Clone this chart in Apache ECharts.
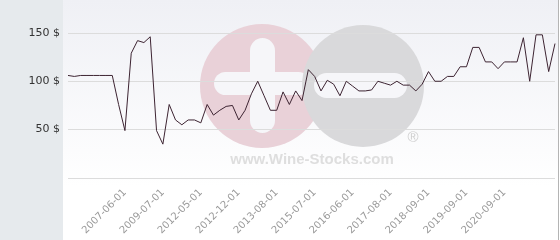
<!DOCTYPE html>
<html>
<head>
<meta charset="utf-8">
<script src="https://cdn.jsdelivr.net/npm/echarts@6/dist/echarts.min.js"></script>
<style>
html,body{margin:0;padding:0;background:#fff;}
#c{width:560px;height:240px;}
</style>
</head>
<body>
<div id="c"></div>
<script>
// Category labels (only the labelled dates are known; others left blank)
var categories = [
  '', '', '', '', '', '', '', '', '', '2007-06-01',
  '', '', '', '', '', '2009-07-01', '', '', '', '',
  '', '2012-05-01', '', '', '', '', '', '2012-12-01', '', '',
  '', '', '', '2013-08-01', '', '', '', '', '', '2015-07-01',
  '', '', '', '', '', '2016-06-01', '', '', '', '',
  '', '2017-08-01', '', '', '', '', '', '2018-09-01', '', '',
  '', '', '', '2019-09-01', '', '', '', '', '', '2020-09-01',
  '', '', '', '', '', '', '', ''
];
// Price values ($)
var prices = [
  106, 105, 106, 106, 106, 106, 106, 106, 76, 49,
  129, 142, 140, 146, 49, 35, 76, 60, 55, 60,
  60, 57, 76, 65, 70, 74, 75, 60, 70, 87,
  100, 85, 70, 70, 89, 76, 90, 80, 112, 105,
  90, 101, 97, 85, 100, 95, 90, 90, 91, 100,
  98, 96, 100, 96, 96, 90, 97, 110, 100, 100,
  105, 105, 115, 115, 135, 135, 120, 120, 113, 120,
  120, 120, 145, 100, 148, 148, 110, 139
];
var yTicks = { min: 0, max: 184, interval: 50 };
var watermarkText = 'www.Wine-Stocks.com';

var chart = echarts.init(document.getElementById('c'), null, { renderer: 'canvas' });
chart.setOption({
  animation: false,
  backgroundColor: '#ffffff',
  graphic: {
    elements: [
      { type: 'rect', z: -20, silent: true, shape: { x: 63, y: 0, width: 496, height: 240 },
        style: { fill: new echarts.graphic.LinearGradient(0, 0, 0, 1, [
          { offset: 0, color: '#eff0f5' }, { offset: 0.78, color: '#ffffff' }, { offset: 1, color: '#ffffff' }]) } },
      { type: 'rect', z: -20, silent: true, shape: { x: 0, y: 0, width: 63, height: 240 }, style: { fill: '#e6eaed' } },
      { type: 'rect', z: -20, silent: true, shape: { x: 558, y: 0, width: 1, height: 240 }, style: { fill: '#b4b4b4' } },
      { type: 'circle', z: -15, silent: true, shape: { cx: 262, cy: 86, r: 62 }, style: { fill: '#e9d1d8' } },
      { type: 'rect', z: -14, silent: true, shape: { x: 214, y: 72, width: 96, height: 23, r: 11.5 }, style: { fill: '#f6f6f9' } },
      { type: 'rect', z: -14, silent: true, shape: { x: 250, y: 38, width: 25, height: 95, r: 12.5 }, style: { fill: '#f6f6f9' } },
      { type: 'circle', z: -13, silent: true, shape: { cx: 363, cy: 86, r: 61 }, style: { fill: '#d9d9db' } },
      { type: 'rect', z: -12, silent: true, shape: { x: 314, y: 73, width: 93, height: 25, r: 12.5 }, style: { fill: '#f6f6f9' } },
      { type: 'text', z: -12, silent: true, x: 312, y: 160,
        style: { text: watermarkText, fill: '#dedede', font: 'bold 15px "Liberation Sans", Arial, sans-serif',
                 textAlign: 'center', textVerticalAlign: 'middle' } },
      { type: 'text', z: -12, silent: true, x: 413, y: 138,
        style: { text: '®', fill: '#cfcfcf', font: '15px "Liberation Sans", Arial, sans-serif',
                 textAlign: 'center', textVerticalAlign: 'middle' } }
    ]
  },
  grid: { left: 68, right: 5, top: 0, bottom: 62, containLabel: false },
  xAxis: {
    type: 'category',
    data: categories,
    boundaryGap: false,
    axisLine: { show: false },
    axisTick: { show: false },
    splitLine: { show: false },
    axisLabel: {
      interval: 0, rotate: 45, margin: 13,
      fontSize: 10, color: '#9a9a9a', fontFamily: 'DejaVu Sans'
    }
  },
  yAxis: {
    type: 'value',
    min: yTicks.min, max: yTicks.max, interval: yTicks.interval,
    axisLine: { show: false },
    axisTick: { show: false },
    splitLine: { show: true, showMaxLine: false, lineStyle: { color: '#dcdcdc', width: 1 } },
    axisLabel: {
      formatter: '{value} $', showMinLabel: false, showMaxLabel: false,
      fontSize: 11, color: '#333333', fontFamily: 'DejaVu Sans', margin: 8
    }
  },
  series: [{
    type: 'line',
    data: prices,
    showSymbol: false,
    symbol: 'none',
    lineStyle: { color: '#3d2432', width: 1 },
    itemStyle: { color: '#3d2432' }
  }]
});
</script>
</body>
</html>
